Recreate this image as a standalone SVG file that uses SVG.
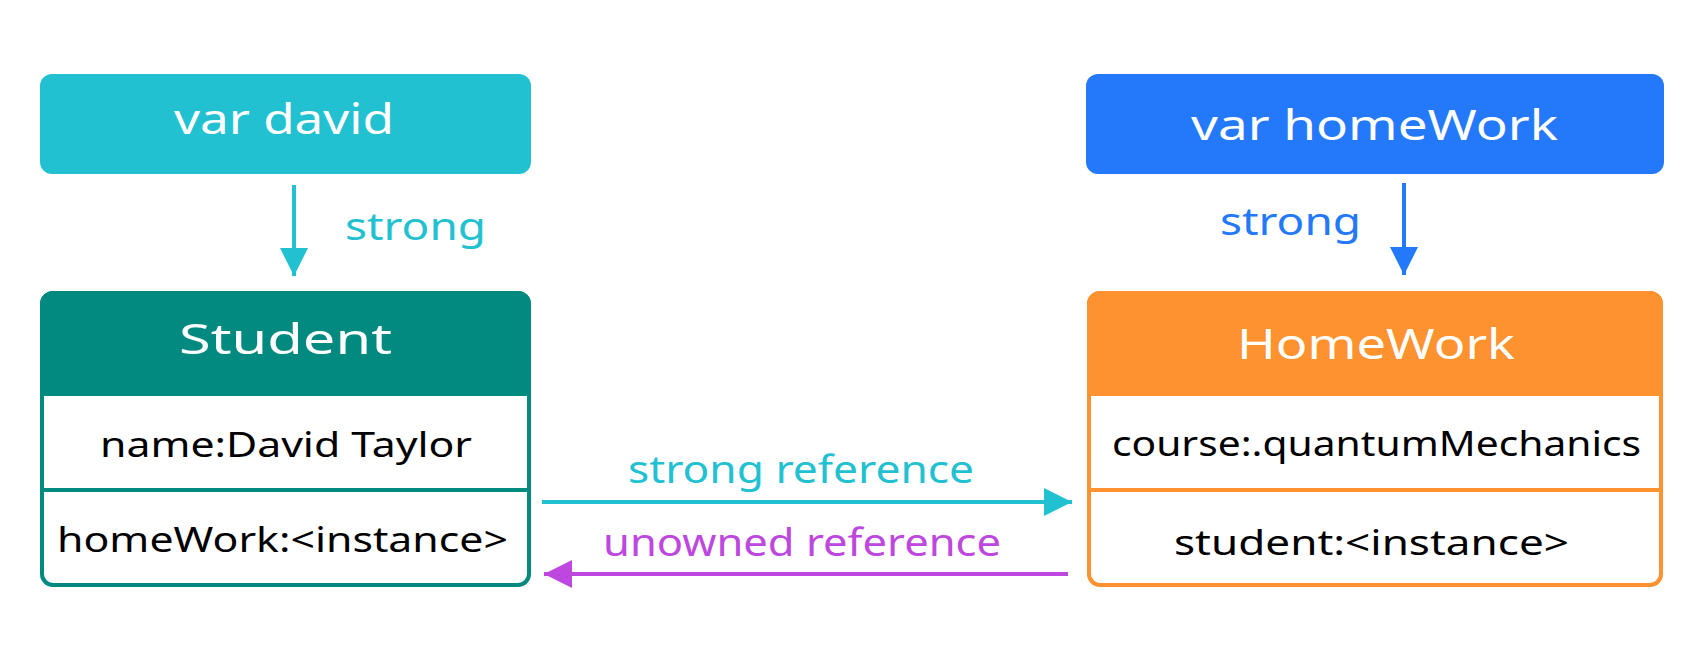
<svg xmlns="http://www.w3.org/2000/svg" width="1704" height="648" viewBox="0 0 1704 648">
<style>
text{font-family:"Noto Sans","Open Sans",sans-serif}
.hd{font-size:42px;fill:#ffffff}
.bd{font-size:35px;fill:#000000}
.lb{font-size:38px}
.cy{fill:#22C1D2}
.bl{fill:#2479FA}
.pu{fill:#BE47DF}
.cbox{stroke-width:4}
.conn{fill:none;stroke-width:4}
</style>
<defs>
<marker id="mCy" markerUnits="userSpaceOnUse" markerWidth="28" markerHeight="28" refX="28" refY="14" orient="auto" viewBox="0 0 28 28"><path d="M0,0 L28,14 L0,28 Z" fill="#22C1D2"/></marker>
<marker id="mBl" markerUnits="userSpaceOnUse" markerWidth="28" markerHeight="28" refX="28" refY="14" orient="auto" viewBox="0 0 28 28"><path d="M0,0 L28,14 L0,28 Z" fill="#2479FA"/></marker>
<marker id="mPu" markerUnits="userSpaceOnUse" markerWidth="28" markerHeight="28" refX="28" refY="14" orient="auto" viewBox="0 0 28 28"><path d="M0,0 L28,14 L0,28 Z" fill="#BE47DF"/></marker>
</defs>
<rect width="1704" height="648" fill="#ffffff"/>

<g id="varDavid">
<rect x="40" y="74" width="491" height="100" rx="12" fill="#22C1D2"/>
<text class="hd" x="174" y="134" textLength="220" lengthAdjust="spacingAndGlyphs">var david</text>
</g>

<g id="varHomeWork">
<rect x="1086" y="74" width="578" height="100" rx="12" fill="#2479FA"/>
<text class="hd" x="1191" y="140" textLength="367" lengthAdjust="spacingAndGlyphs">var homeWork</text>
</g>

<g id="student">
<rect class="cbox" x="42" y="293" width="487" height="292" rx="11" fill="#ffffff" stroke="#038A80"/>
<path d="M42,394 V304 a11,11 0 0 1 11,-11 H518 a11,11 0 0 1 11,11 V394 Z" fill="#038A80" stroke="#038A80" stroke-width="4"/>
<line x1="42" y1="490" x2="529" y2="490" stroke="#038A80" stroke-width="4"/>
<text class="hd" x="179" y="354" textLength="213" lengthAdjust="spacingAndGlyphs">Student</text>
<text class="bd" x="100" y="457" textLength="372" lengthAdjust="spacingAndGlyphs">name:David Taylor</text>
<text class="bd" x="57" y="552" textLength="451" lengthAdjust="spacingAndGlyphs">homeWork:&lt;instance&gt;</text>
</g>

<g id="homeWork">
<rect class="cbox" x="1089" y="293" width="572" height="292" rx="11" fill="#ffffff" stroke="#FD922F"/>
<path d="M1089,394 V304 a11,11 0 0 1 11,-11 H1650 a11,11 0 0 1 11,11 V394 Z" fill="#FD922F" stroke="#FD922F" stroke-width="4"/>
<line x1="1089" y1="490" x2="1661" y2="490" stroke="#FD922F" stroke-width="4"/>
<text class="hd" x="1237" y="359" textLength="278" lengthAdjust="spacingAndGlyphs">HomeWork</text>
<text class="bd" x="1112" y="456" textLength="529" lengthAdjust="spacingAndGlyphs">course:.quantumMechanics</text>
<text class="bd" x="1174" y="555" textLength="395" lengthAdjust="spacingAndGlyphs">student:&lt;instance&gt;</text>
</g>

<g id="connectors">
<line class="conn" x1="294" y1="185" x2="294" y2="276" stroke="#22C1D2" marker-end="url(#mCy)"/>
<text class="lb cy" x="345" y="240" textLength="141" lengthAdjust="spacingAndGlyphs">strong</text>
<line class="conn" x1="1404" y1="183" x2="1404" y2="275" stroke="#2479FA" marker-end="url(#mBl)"/>
<text class="lb bl" x="1220" y="235" textLength="141" lengthAdjust="spacingAndGlyphs">strong</text>
<line class="conn" x1="542" y1="502" x2="1072" y2="502" stroke="#22C1D2" marker-end="url(#mCy)"/>
<text class="lb cy" x="628" y="483" textLength="346" lengthAdjust="spacingAndGlyphs">strong reference</text>
<line class="conn" x1="1068" y1="574" x2="544" y2="574" stroke="#BE47DF" marker-end="url(#mPu)"/>
<text class="lb pu" x="603" y="556" textLength="398" lengthAdjust="spacingAndGlyphs">unowned reference</text>
</g>
</svg>
